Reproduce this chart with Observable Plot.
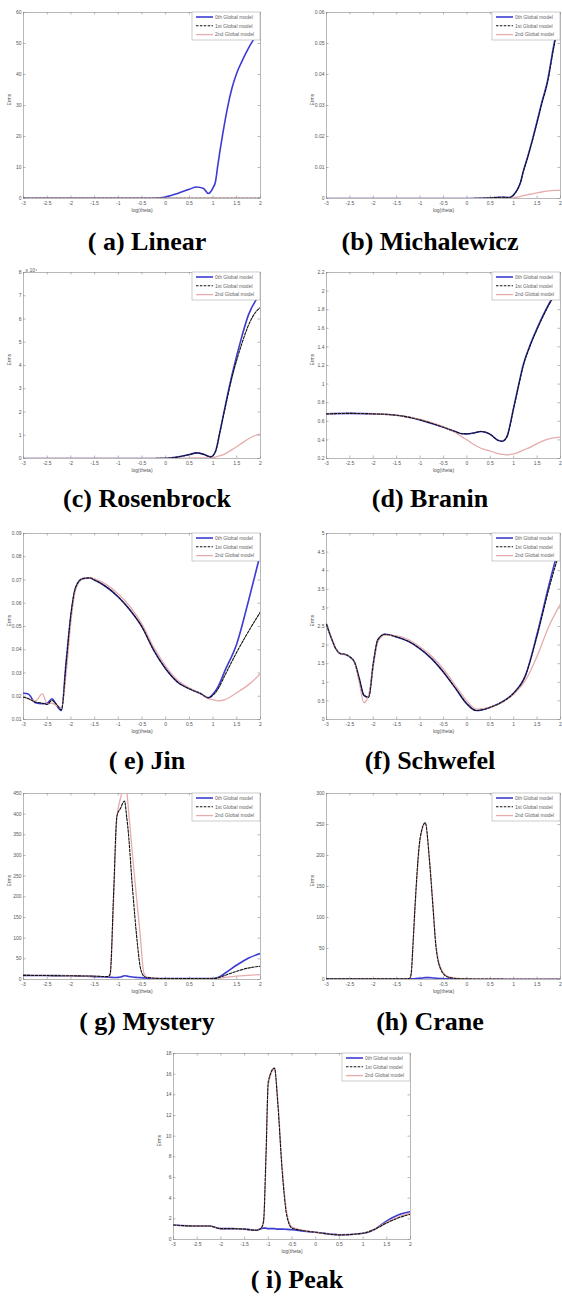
<!DOCTYPE html>
<html><head><meta charset="utf-8">
<script src="https://cdn.jsdelivr.net/npm/d3@7"></script>
<script src="https://cdn.jsdelivr.net/npm/@observablehq/plot@0.6"></script>
<style>
body{margin:0;background:#fff;}
#page{position:relative;width:562px;height:1300px;overflow:hidden;background:#fff;}
.panel{position:absolute;}
.cap{position:absolute;font-family:"Liberation Serif","Times New Roman",serif;font-weight:bold;font-size:26px;white-space:nowrap;transform:translate(-50%,-50%);color:#000;line-height:1;}
</style></head><body><div id="page"></div>
<script>
const xTicks = [-3,-2.5,-2,-1.5,-1,-0.5,0,0.5,1,1.5,2];
const legendLabels = ["0th Global model","1st Global model","2nd Global model"];
const seriesColors = ["#3b3bd4","#111111","#e6acac"];
const seriesDash = [null,"2.5,1.4",null];
const seriesWidth = [1.6,1.1,1.3];

// (a) Linear
const linearX = [-3,-2.5,-2,-1.5,-1,-0.5,-0.25,0,0.25,0.5,0.65,0.8,0.9,1.0,1.05,1.1,1.2,1.3,1.4,1.5,1.6,1.75,1.9,2];
const linear0 = [0.05,0.05,0.05,0.05,0.05,0.05,0.1,0.5,1.6,3.0,3.7,3.2,1.6,3.5,5.4,10.8,20.5,29,35.7,40.5,44,48.6,52.4,55];
const linear1 = [0.1,0.1,0.1,0.1,0.1,0.1,0.1,0.1,0.1,0.1,0.1,0.1,0.1,0.1,0.1,0.1,0.1,0.1,0.1,0.1,0.1,0.1,0.1,0.1];
const linear2 = [0.15,0.15,0.15,0.15,0.15,0.15,0.15,0.15,0.15,0.15,0.15,0.15,0.15,0.15,0.15,0.15,0.15,0.15,0.15,0.15,0.15,0.15,0.15,0.15];
const linearYTicks = [0,10,20,30,40,50,60];

// (b) Michalewicz
const michX = [-3,-2,-1,0,0.5,0.75,0.9,1.0,1.1,1.15,1.2,1.29,1.4,1.5,1.6,1.72,1.86,2];
const mich0 = [0,0,0,0,0.0002,0.0004,0.0003,0.0012,0.0035,0.0054,0.0085,0.013,0.019,0.0249,0.031,0.0378,0.0497,0.0595];
const mich1 = [0,0,0,0,0.0002,0.0004,0.0003,0.0012,0.0035,0.0054,0.0084,0.0128,0.0187,0.0245,0.0305,0.0372,0.049,0.0588];
const mich2 = [0,0,0,0,0.0001,0.0002,0.0001,0.0002,0.0005,0.0007,0.0009,0.0012,0.0015,0.0018,0.0021,0.0024,0.0026,0.0026];
const michYTicks = [0,0.01,0.02,0.03,0.04,0.05,0.06];

// (c) Rosenbrock
const rosX = [-3,-2,-1,-0.5,0,0.25,0.5,0.65,0.8,0.95,1.05,1.15,1.25,1.4,1.6,1.75,1.9,2];
const ros0 = [0,0,0,0,0.01,0.06,0.17,0.24,0.18,0.07,0.3,1.2,2.2,3.6,5.2,6.2,6.8,7.1];
const ros1 = [0,0,0,0,0.01,0.06,0.17,0.24,0.18,0.07,0.3,1.2,2.15,3.5,4.9,5.75,6.3,6.5];
const ros2 = [0,0,0,0,0,0.01,0.02,0.03,0.03,0.03,0.06,0.12,0.2,0.38,0.65,0.85,1.0,1.05];
const rosYTicks = [0,1,2,3,4,5,6,7,8];

// (d) Branin
const braX = [-3,-2.5,-2,-1.5,-1,-0.5,-0.25,-0.1,0,0.15,0.3,0.5,0.65,0.75,0.85,1.0,1.1,1.2,1.35,1.5,1.75,2];
const bra0 = [0.68,0.685,0.68,0.665,0.615,0.535,0.49,0.466,0.465,0.475,0.49,0.46,0.40,0.385,0.43,0.75,0.98,1.2,1.42,1.6,1.86,2.06];
const bra1 = [0.68,0.685,0.68,0.665,0.615,0.535,0.49,0.466,0.465,0.475,0.49,0.46,0.40,0.385,0.43,0.74,0.97,1.19,1.41,1.59,1.85,2.05];
const bra2 = [0.68,0.685,0.68,0.665,0.62,0.54,0.48,0.43,0.40,0.35,0.31,0.28,0.255,0.245,0.24,0.25,0.265,0.29,0.32,0.36,0.41,0.43];
const braYTicks = [0.2,0.4,0.6,0.8,1,1.2,1.4,1.6,1.8,2,2.2];

// (e) Jin
const jinX = [-3,-2.9,-2.75,-2.6,-2.5,-2.4,-2.3,-2.2,-2.1,-2.0,-1.9,-1.75,-1.6,-1.5,-1.25,-1,-0.75,-0.5,-0.25,0,0.25,0.5,0.75,0.9,1.0,1.1,1.25,1.5,1.75,2];
const jin0 = [0.0213,0.021,0.0172,0.0168,0.017,0.0189,0.016,0.0139,0.035,0.055,0.0668,0.0706,0.0709,0.070,0.067,0.0627,0.057,0.0498,0.0397,0.0318,0.0261,0.0232,0.021,0.0193,0.021,0.0239,0.031,0.0426,0.0613,0.0814];
const jin1 = [0.0196,0.019,0.0175,0.017,0.0165,0.0182,0.0165,0.0142,0.034,0.055,0.0668,0.0706,0.0709,0.070,0.067,0.0627,0.057,0.0498,0.0397,0.0318,0.0261,0.0232,0.021,0.0193,0.0205,0.023,0.029,0.039,0.048,0.0563];
const jin2 = [0.0196,0.019,0.018,0.021,0.0168,0.017,0.016,0.015,0.03,0.052,0.066,0.0706,0.071,0.0705,0.068,0.064,0.0585,0.051,0.041,0.033,0.027,0.0235,0.021,0.019,0.0185,0.018,0.0185,0.0215,0.025,0.0297];
const jinYTicks = [0.01,0.02,0.03,0.04,0.05,0.06,0.07,0.08,0.09];

// (f) Schwefel
const schX = [-3,-2.9,-2.8,-2.7,-2.6,-2.5,-2.4,-2.3,-2.2,-2.1,-2.0,-1.9,-1.75,-1.5,-1.25,-1,-0.75,-0.5,-0.25,0,0.2,0.5,0.75,1.0,1.25,1.5,1.75,2];
const sch0 = [2.56,2.2,1.9,1.77,1.75,1.68,1.54,1.1,0.65,0.6,1.5,2.15,2.29,2.22,2.1,1.9,1.63,1.27,0.85,0.42,0.24,0.33,0.47,0.71,1.18,2.3,3.6,4.8];
const sch1 = [2.56,2.2,1.9,1.77,1.75,1.68,1.54,1.1,0.65,0.6,1.5,2.15,2.29,2.22,2.1,1.9,1.63,1.27,0.85,0.42,0.24,0.33,0.47,0.71,1.18,2.25,3.5,4.6];
const sch2 = [2.56,2.2,1.9,1.77,1.75,1.68,1.54,1.0,0.45,0.65,1.45,2.1,2.27,2.25,2.15,1.95,1.7,1.35,0.92,0.5,0.28,0.33,0.46,0.68,1.05,1.7,2.5,3.1];
const schYTicks = [0,0.5,1,1.5,2,2.5,3,3.5,4,4.5,5];

// (g) Mystery
const mysX = [-3,-2.5,-2,-1.5,-1.25,-1.2,-1.17,-1.1,-1.03,-0.95,-0.87,-0.82,-0.8,-0.7,-0.6,-0.54,-0.46,-0.4,0,0.5,1,1.1,1.25,1.5,1.75,2];
const mys0 = [10,9.5,9,7,6,5.5,5.5,5,5,6,9,8.5,8,6,5,4.5,4,3,2,2,2,5,15,35,52,63];
const mys1 = [10,9.5,9,8,7,8,15,205,395,415,432,390,370,220,90,32,8,5,2,2,2,4,10,20,28,32];
const mys2 = [10,9.5,9,8,7,7,12,190,390,440,470,455,430,300,180,110,15,6,2,2,2,3,5,8,10,12];
const mysYTicks = [0,50,100,150,200,250,300,350,400,450];

// (h) Crane
const craX = [-3,-2,-1.5,-1.3,-1.22,-1.19,-1.15,-1.1,-1.0,-0.89,-0.8,-0.73,-0.66,-0.55,-0.41,-0.2,0,1,2];
const cra0 = [1,1,1,1,1,1,1,1.5,2,3,3,2.5,2,1.5,1,0.8,0.5,0.5,0.5];
const cra1 = [1,1,1,1,2,10,60,130,228,253,192,122,52,15,4,1.5,1,0.5,0.5];
const cra2 = [1,1,1,1,2,9,55,125,225,252,195,126,56,17,5,1.6,1,0.5,0.5];
const craYTicks = [0,50,100,150,200,250,300];

// (i) Peak
const peakX = [-3,-2.5,-2.25,-2,-1.75,-1.5,-1.25,-1.15,-1.1,-1.05,-1.0,-0.87,-0.8,-0.71,-0.61,-0.5,-0.25,0,0.5,1.0,1.25,1.5,1.75,2];
const peak0 = [1.4,1.3,1.3,1.05,1.05,1.0,0.9,1.05,1.1,1.1,1.05,1.05,1.0,1.0,0.98,0.95,0.8,0.7,0.45,0.6,1.0,1.8,2.4,2.7];
const peak1 = [1.4,1.3,1.3,1.05,1.05,1.0,0.9,1.1,1.8,8,15.3,16.6,13.2,6.8,2.3,1.1,0.85,0.7,0.45,0.6,1.0,1.6,2.1,2.45];
const peak2 = [1.4,1.3,1.3,1.05,1.05,1.0,0.9,1.1,1.6,7.5,15,16.5,13.5,7.2,2.6,1.2,0.87,0.7,0.45,0.6,1.0,1.65,2.2,2.55];
const peakYTicks = [0,2,4,6,8,10,12,14,16,18];

const panels = [
  {cap:"( a) Linear", x:linearX, s:[linear0,linear1,linear2], yTicks:linearYTicks, left:23, top:12, w:237, capX:147, capY:242},
  {cap:"(b) Michalewicz", x:michX, s:[mich0,mich1,mich2], yTicks:michYTicks, left:326, top:12, w:234, capX:430, capY:242},
  {cap:"(c) Rosenbrock", x:rosX, s:[ros0,ros1,ros2], yTicks:rosYTicks, left:23, top:272, w:237, capX:147, capY:499, expo:"x 10\u2074"},
  {cap:"(d) Branin", x:braX, s:[bra0,bra1,bra2], yTicks:braYTicks, left:326, top:272, w:234, capX:430, capY:499},
  {cap:"( e) Jin", x:jinX, s:[jin0,jin1,jin2], yTicks:jinYTicks, left:23, top:533, w:237, capX:147, capY:761},
  {cap:"(f) Schwefel", x:schX, s:[sch0,sch1,sch2], yTicks:schYTicks, left:326, top:533, w:234, capX:430, capY:761},
  {cap:"( g) Mystery", x:mysX, s:[mys0,mys1,mys2], yTicks:mysYTicks, left:23, top:793, w:237, capX:147, capY:1022},
  {cap:"(h) Crane", x:craX, s:[cra0,cra1,cra2], yTicks:craYTicks, left:326, top:793, w:234, capX:430, capY:1022},
  {cap:"( i) Peak", x:peakX, s:[peak0,peak1,peak2], yTicks:peakYTicks, left:173, top:1053, w:237, capX:297, capY:1280}
];

const page = document.getElementById("page");
const PH = 186, ml = 24, mr = 2, mt = 10, mb = 20;

function addLegend(svg, xRight, yTop) {
  const LW = 68, LH = 28;
  const g = d3.select(svg).append("g").attr("transform", `translate(${xRight - LW},${yTop})`);
  g.append("rect").attr("width", LW).attr("height", LH).attr("fill", "#fff").attr("stroke", "#aaa").attr("stroke-width", 0.6);
  legendLabels.forEach((t, i) => {
    const yy = 5 + i * 8.8;
    const ln = g.append("line").attr("x1", 4).attr("x2", 21).attr("y1", yy).attr("y2", yy)
      .attr("stroke", seriesColors[i]).attr("stroke-width", seriesWidth[i]);
    if (seriesDash[i]) ln.attr("stroke-dasharray", seriesDash[i]);
    g.append("text").attr("x", 23).attr("y", yy).attr("dy", "0.35em").attr("text-anchor", "start")
      .attr("font-size", 5).attr("fill", "#666").attr("font-family", "Liberation Sans, Arial, sans-serif").text(t);
  });
}

panels.forEach(p => {
  const yDom = [p.yTicks[0], p.yTicks[p.yTicks.length - 1]];
  const ty = (yDom[1] - yDom[0]) * 2.5 / PH;
  const tx = 5 * 2.5 / p.w;
  const lines = [0, 1, 2].map(k => p.x.map((xv, i) => ({x: xv, y: p.s[k][i]})));
  const order = [0, 2, 1];
  const marks = [
    Plot.frame({stroke: "#9a9a9a", strokeWidth: 0.7}),
    Plot.ruleX(xTicks, {y1: yDom[0], y2: yDom[0] + ty, stroke: "#888", strokeWidth: 0.6}),
    Plot.ruleX(xTicks, {y1: yDom[1] - ty, y2: yDom[1], stroke: "#888", strokeWidth: 0.6}),
    Plot.ruleY(p.yTicks, {x1: -3, x2: -3 + tx, stroke: "#888", strokeWidth: 0.6}),
    Plot.ruleY(p.yTicks, {x1: 2 - tx, x2: 2, stroke: "#888", strokeWidth: 0.6}),
    Plot.text(xTicks, {x: d => d, text: d => String(d), frameAnchor: "bottom", dy: 6, fontSize: 5, fill: "#555"}),
    Plot.text(p.yTicks, {y: d => d, text: d => String(d), frameAnchor: "left", dx: -2, textAnchor: "end", fontSize: 5, fill: "#555"}),
    Plot.text(["log(theta)"], {frameAnchor: "bottom", dy: 13, fontSize: 5, fill: "#555"}),
    Plot.text(["Erms"], {frameAnchor: "left", rotate: -90, dx: -14, fontSize: 5, fill: "#555"}),
    ...order.map(k => Plot.line(lines[k], {x: "x", y: "y", stroke: seriesColors[k], strokeWidth: seriesWidth[k],
      strokeDasharray: seriesDash[k] || undefined, curve: "monotone-x", clip: true}))
  ];
  if (p.expo) marks.push(Plot.text([p.expo], {frameAnchor: "top-left", dy: -4, dx: 2, textAnchor: "start", fontSize: 5, fill: "#555"}));
  const svg = Plot.plot({
    width: p.w + ml + mr, height: PH + mt + mb,
    marginLeft: ml, marginRight: mr, marginTop: mt, marginBottom: mb,
    x: {domain: [-3, 2], axis: null},
    y: {domain: yDom, axis: null},
    style: {fontFamily: "Liberation Sans, Arial, sans-serif", background: "transparent", overflow: "visible"},
    marks
  });
  addLegend(svg, ml + p.w, mt);
  const div = document.createElement("div");
  div.className = "panel";
  div.style.left = (p.left - ml) + "px";
  div.style.top = (p.top - mt) + "px";
  div.appendChild(svg);
  page.appendChild(div);
  const cap = document.createElement("div");
  cap.className = "cap";
  cap.style.left = p.capX + "px";
  cap.style.top = p.capY + "px";
  cap.textContent = p.cap;
  page.appendChild(cap);
});
</script>
</body></html>
